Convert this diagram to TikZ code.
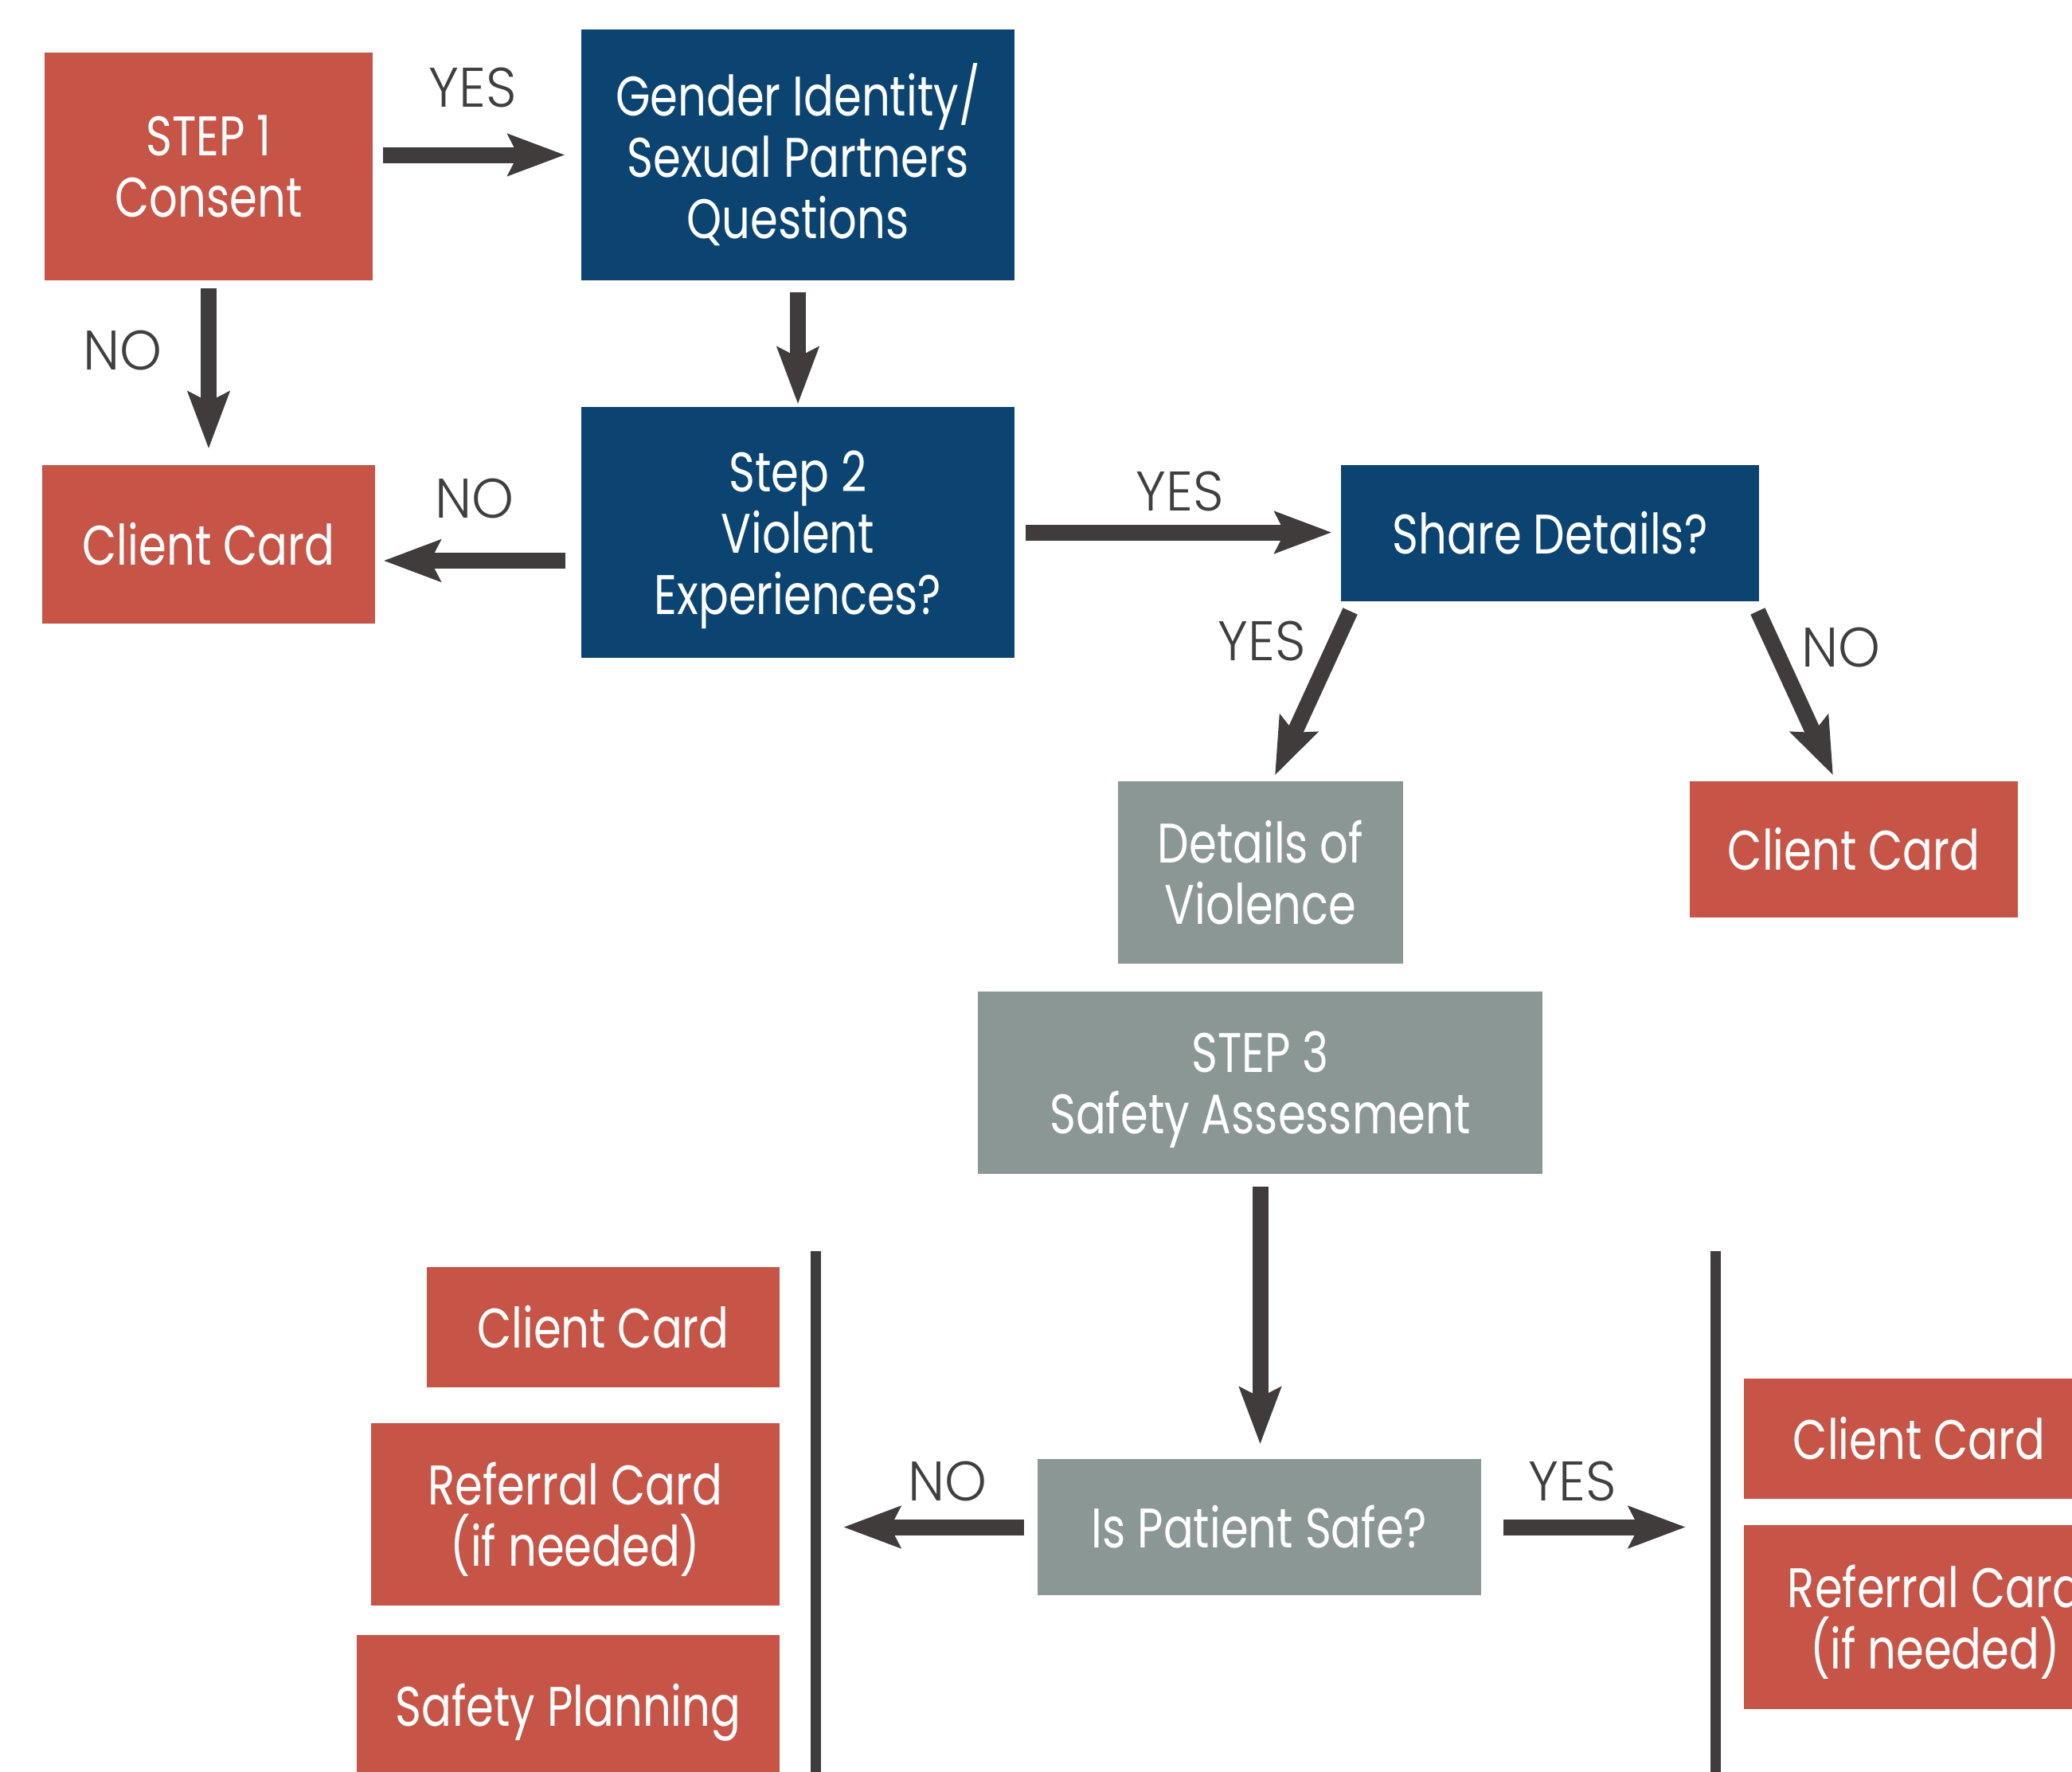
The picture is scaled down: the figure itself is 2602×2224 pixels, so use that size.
\documentclass[tikz,border=0pt]{standalone}
\usepackage{fontspec}
\setmainfont{Poppins}[FakeStretch=0.8]
\newfontfamily\lightfont{Poppins Light}[FakeStretch=0.96]
\usetikzlibrary{arrows.meta,calc}
\definecolor{cred}{HTML}{C65447}
\definecolor{cblue}{HTML}{0B4470}
\definecolor{cgray}{HTML}{8B9794}
\definecolor{carrow}{HTML}{403C3B}
\definecolor{clabel}{HTML}{3F3F3F}
\begin{document}
\begin{tikzpicture}[x=0.5pt,y=-0.5pt,
  box/.style={inner sep=0pt, text=white, align=center, font=\fontsize{35}{38.5}\selectfont},
  flat/.style={text depth=0pt},
  redbox/.style={box, fill=cred},
  bluebox/.style={box, fill=cblue},
  graybox/.style={box, fill=cgray},
  arr/.style={draw=carrow, line width=10pt, -{Stealth[length=35.5pt,width=25.5pt,inset=6pt]}},
  lbl/.style={text=clabel, inner sep=0pt, font=\lightfont\fontsize{35}{38.5}\selectfont},
  vline/.style={draw=carrow, line width=6.5pt}]
\clip (0,0) rectangle (2602,2224);
\fill[white] (0,0) rectangle (2602,2224);
% nodes
\node[redbox, flat, minimum width=206pt, minimum height=143pt] (s1) at (262,209) {STEP 1\\Consent};
\node[bluebox, minimum width=272pt, minimum height=157.5pt] (gi) at (1002,194.5) {Gender Identity/\\Sexual Partners\\Questions};
\node[redbox, minimum width=209pt, minimum height=99.5pt] (cc1) at (262,683.5) {Client Card};
\node[bluebox, flat, minimum width=272pt, minimum height=157.5pt] (s2) at (1002,668.5) {Step 2\\Violent\\Experiences?};
\node[bluebox, minimum width=262.5pt, minimum height=85.5pt] (sd) at (1946.5,669.5) {Share Details?};
\node[graybox, minimum width=179pt, minimum height=114.5pt] (dv) at (1583,1095.5) {Details of\\Violence};
\node[redbox, minimum width=206pt, minimum height=85.5pt] (cc2) at (2328,1066.5) {Client Card};
\node[graybox, flat, minimum width=354.5pt, minimum height=114.5pt] (s3) at (1582.5,1359.5) {STEP 3\\Safety Assessment};
\node[graybox, minimum width=278.5pt, minimum height=85.5pt] (ps) at (1581.5,1917.5) {Is Patient Safe?};
\node[redbox, minimum width=221.5pt, minimum height=75.5pt] (cc3) at (757.5,1666.5) {Client Card};
\node[redbox, flat, minimum width=256.5pt, minimum height=114.5pt] (rc1) at (722.5,1901.5) {Referral Card\\(if needed)};
\node[redbox, flat, minimum width=265.5pt, minimum height=88pt] (sp) at (713.5,2141) {Safety Planning};
\node[redbox, minimum width=220pt, minimum height=75.5pt] (cc4) at (2410,1806.5) {Client Card};
\node[redbox, flat, minimum width=240pt, minimum height=115.5pt] (rc2) at (2430,2030.5) {Referral Card\\(if needed)};
% vertical bars
\coordinate (v1t) at (1024,1571);
\coordinate (v1b) at (1024,2240);
\coordinate (v2t) at (2154,1571);
\coordinate (v2b) at (2154,2240);
\draw[vline] (v1t) -- (v1b);
\draw[vline] (v2t) -- (v2b);
% arrows
\coordinate (r2) at (0,704);
\draw[arr, shorten <=6.5pt, shorten >=10pt] (s1.east |- gi.west) -- (gi.west);
\draw[arr, shorten <=5pt, shorten >=10pt] (s1.south) -- (cc1.north);
\draw[arr, shorten <=7.5pt, shorten >=1.5pt] (gi.south) -- (s2.north);
\draw[arr, shorten <=10pt, shorten >=5pt] (s2.west |- r2) -- (cc1.east |- r2);
\draw[arr, shorten <=7pt, shorten >=5.5pt] (s2.east) -- (s2.east -| sd.west);
\draw[arr] ($(sd.south west)+(12,12)$) -- ($(dv.north)+(18,-7)$);
\draw[arr] ($(sd.south east)+(-2,12)$) -- ($(cc2.north)+(-26,-7)$);
\draw[arr, shorten <=8pt, shorten >=9pt] (s3.south) -- (s3.south |- ps.north);
\draw[arr, shorten <=8.5pt, shorten >=17.5pt] (ps.west) -- (ps.west -| v1t);
\draw[arr, shorten <=14pt, shorten >=18.5pt] (ps.east) -- (ps.east -| v2t);
% labels
\node[lbl] (l1) at (594,110) {YES};
\node[lbl] (l2) at (154,440) {NO};
\node[lbl] (l3) at (596,626) {NO};
\node[lbl] (l4) at (1482,617) {YES};
\node[lbl] (l5) at (1585,805) {YES};
\node[lbl] (l6) at (2312,813) {NO};
\node[lbl] (l7) at (1190,1860) {NO};
\node[lbl] (l8) at (1975,1860) {YES};
\end{tikzpicture}
\end{document}
